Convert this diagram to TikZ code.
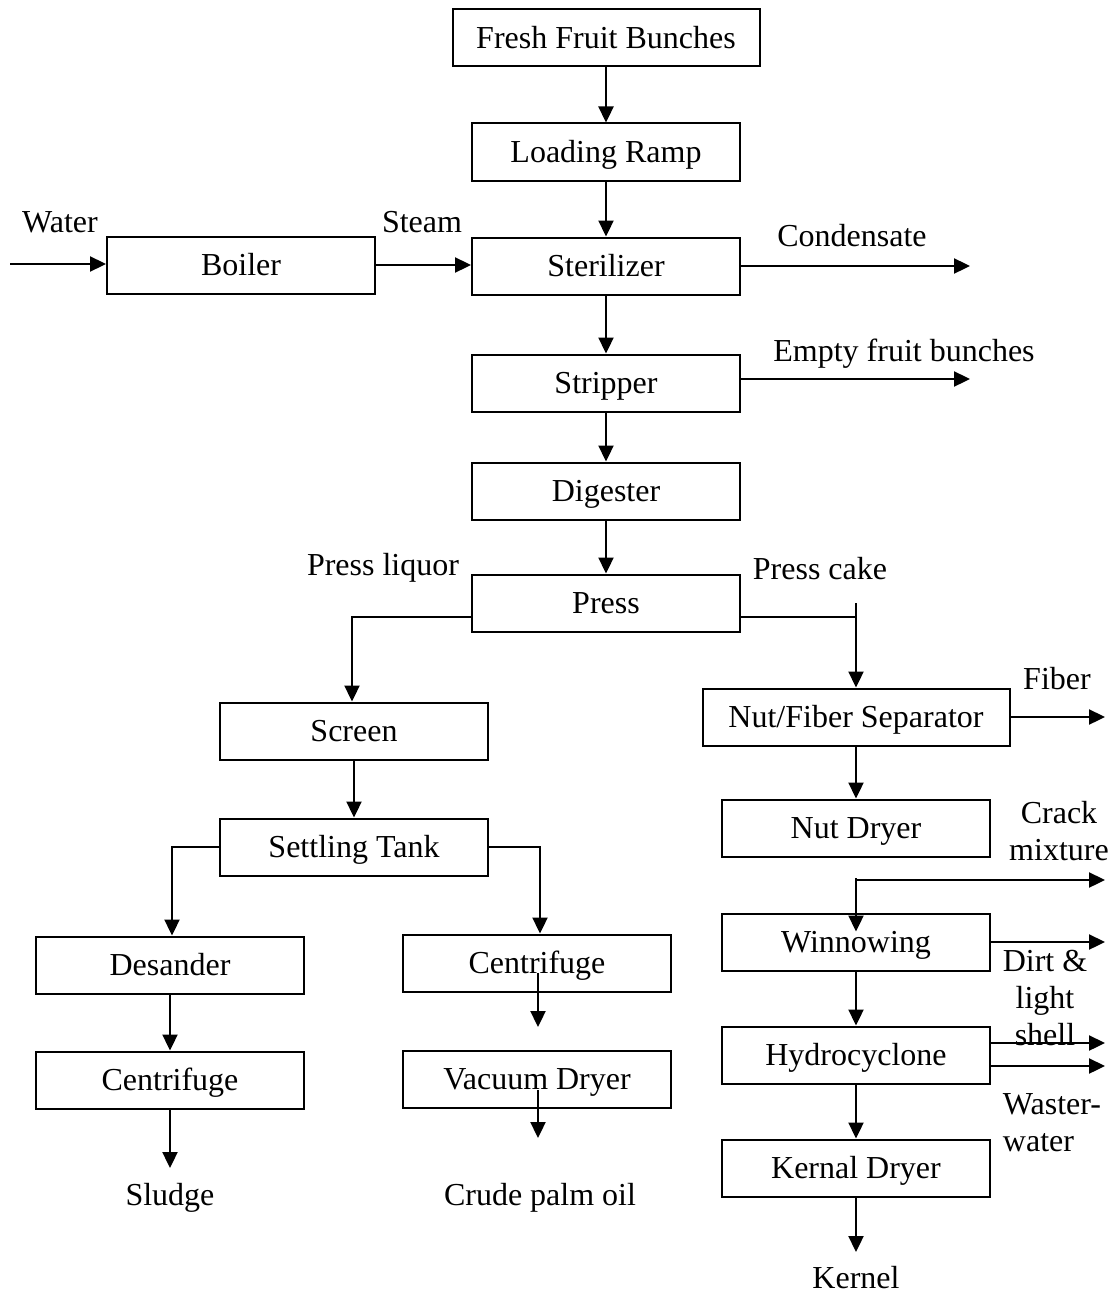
\documentclass[tikz,border=0pt]{standalone}
\usepackage{fontspec}
\setmainfont{Liberation Serif}
\usetikzlibrary{arrows.meta}

\begin{document}
\begin{tikzpicture}[x=1pt, y=-1pt,
>={Triangle[length=16pt, width=15pt]},
unit/.style={rectangle, draw=black, line width=2pt, minimum width=268pt,
minimum height=57pt, inner sep=0pt, text height=21pt, text depth=0pt,
font=\fontsize{32}{38}\selectfont},
%
wideunit/.style={unit, minimum width=307pt},
%
stream/.style={inner sep=0pt, align=center, font=\fontsize{32}{37}\selectfont},
%
flow/.style={->, line width=2.3pt}]

\useasboundingbox (0,0) rectangle (1114,1295);

\begin{scope}
  %%%%%%%%%%%%%%%%%%%%%%%%%%%%%%
  \node [wideunit] (ffb) at (606,38) {Fresh Fruit Bunches};
  \node [unit] (loadRamp) at (606,152) {Loading Ramp};
  \node [unit] (boiler) at (241,265) {Boiler};
  \node [unit] (steril) at (606,266) {Sterilizer};
  \node [unit] (stripper) at (606,383) {Stripper};
  \node [unit] (digester) at (606,491) {Digester};
  \node [unit] (press) at (606,603) {Press};
  %%%%%%%%%%%%%%%%%%%%%%%%%%%%%%
  \node [unit] (screen) at (354,731) {Screen};
  \node [unit] (settling) at (354,847) {Settling Tank};
  \node [unit] (desander) at (170,965) {Desander};
  \node [unit] (centriL) at (170,1080) {Centrifuge};
  \node [unit] (centriM) at (537,963) {Centrifuge};
  \node [unit] (vacDryer) at (537,1079) {Vacuum Dryer};
  %%%%%%%%%%%%%%%%%%%%%%%%%%%%%%
  \node [wideunit] (nutSep) at (856,717) {Nut/Fiber Separator};
  \node [unit] (nutDryer) at (856,828) {Nut Dryer};
  \node [unit] (winnow) at (856,942) {Winnowing};
  \node [unit] (hydro) at (856,1055) {Hydrocyclone};
  \node [unit] (kernDryer) at (856,1168) {Kernal Dryer};
\end{scope}

\begin{scope}
  %%%%%%%%%%%%%%%%%%%%%%%%%%%%%%
  \node [stream] (water) at (60,222) {Water};
  \node [stream] (steam) at (422,222) {Steam};
  \node [stream] (condens) at (852,236) {Condensate};
  \node [stream] (efb) at (904,354) {Empty fruit bunches};
  \node [stream] (liquor) at (383,568) {Press liquor};
  \node [stream] (cake) at (820,569) {Press cake};
  \node [stream] (fiber) at (1057,679) {Fiber};
  \node [stream] (crack) at (1059,831) {Crack\\mixture};
  \node [stream] (dirt) at (1045,998) {Dirt \&\\light\\shell};
  \node [stream, align=left] (wasteW) at (1052,1123) {Waster-\\water};
  \node [stream] (sludge) at (170,1198) {Sludge};
  \node [stream] (cpo) at (540,1198) {Crude palm oil};
  \node [stream] (kernel) at (856,1278) {Kernel};
  %%%%%%%%%%%%%%%%%%%%%%%%%%%%%%
  \coordinate (waterIn) at (10,264);
  \coordinate (condOut) at (970,266);
  \coordinate (efbOut) at (970,379);
  \coordinate (cakeTop) at (856,603);
  \coordinate (fiberOut) at (1105,717);
  \coordinate (crackSplit) at (856,878);
  \coordinate (crackOut) at (1105,880);
  \coordinate (dirtOut) at (1105,942);
  \coordinate (hydroOutA) at (1105,1043);
  \coordinate (hydroOutB) at (1105,1066);
  \coordinate (sludgeEnd) at (170,1168);
  \coordinate (centriEnd) at (538,1027);
  \coordinate (cpoEnd) at (538,1138);
  \coordinate (kernelEnd) at (856,1252);
\end{scope}

\begin{scope}
   \draw [flow] (ffb) -- (loadRamp);
   \draw [flow] (loadRamp) -- (steril);
   \draw [flow] (waterIn) -- (waterIn -| boiler.west);
   \draw [flow] (boiler.east) -- (boiler.east -| steril.west);
   \draw [flow] (steril) -- (condOut);
   \draw [flow] (steril) -- (stripper);
   \draw [flow] (stripper.east |- efbOut) -- (efbOut);
   \draw [flow] (stripper) -- (digester);
   \draw [flow] (digester) -- (press);
   %%%%%%%%%%%%%%%%%%%%%%%%%%%%%%
   \draw [flow] ([yshift=-14pt]press.west) -| ([xshift=-2pt]screen.north);
   \draw [line width=2.3pt] ([yshift=-14pt]press.east) -| (cakeTop);
   \draw [flow] (cakeTop) -- (nutSep);
   %%%%%%%%%%%%%%%%%%%%%%%%%%%%%%
   \draw [flow] (screen) -- (settling);
   \draw [flow] (settling.west) -| ([xshift=2pt]desander.north);
   \draw [flow] (settling.east) -| ([xshift=3pt]centriM.north);
   \draw [flow] (desander) -- (centriL);
   \draw [flow] (centriL) -- (sludgeEnd);
   \draw [flow] ([xshift=1pt, yshift=-10pt]centriM.center) -- (centriEnd);
   \draw [flow] ([xshift=1pt, yshift=-11pt]vacDryer.center) -- (cpoEnd);
   %%%%%%%%%%%%%%%%%%%%%%%%%%%%%%
   \draw [flow] (nutSep) -- (fiberOut);
   \draw [flow] (nutSep) -- (nutDryer);
   \draw [flow] (crackSplit |- crackOut) -- (crackOut);
   \draw [flow] (crackSplit) -- ([yshift=-19pt]winnow.north);
   \draw [flow] (winnow) -- (dirtOut);
   \draw [flow] (winnow) -- (hydro);
   \draw [flow] (hydro.east |- hydroOutA) -- (hydroOutA);
   \draw [flow] (hydro.east |- hydroOutB) -- (hydroOutB);
   \draw [flow] (hydro) -- (kernDryer);
   \draw [flow] (kernDryer) -- (kernelEnd);
\end{scope}

\end{tikzpicture}
\end{document}
